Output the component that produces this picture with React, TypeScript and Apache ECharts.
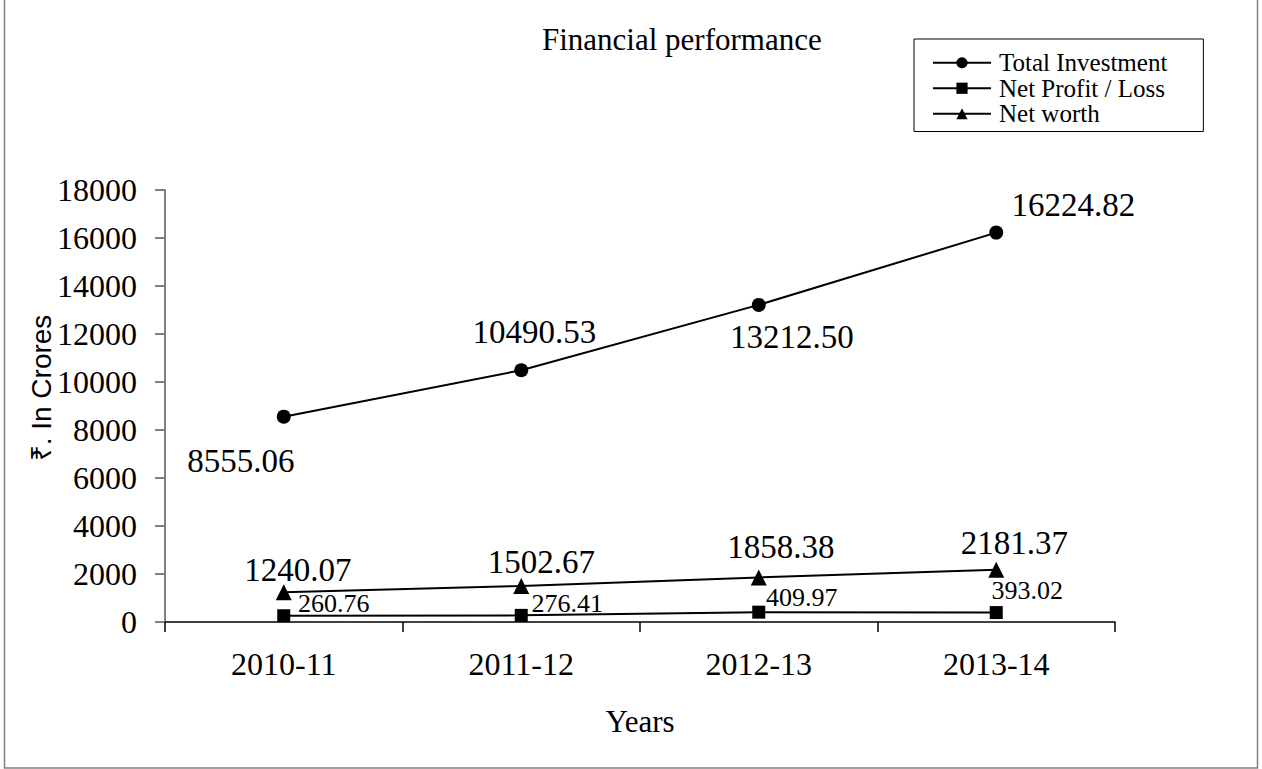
import React, { useEffect, useRef } from "react";
import * as echarts from "echarts";

const categories = ["2010-11", "2011-12", "2012-13", "2013-14"];
const totalInvestment = [8555.06, 10490.53, 13212.5, 16224.82];
const netProfit = [260.76, 276.41, 409.97, 393.02];
const netWorth = [1240.07, 1502.67, 1858.38, 2181.37];
const yTicks = [0, 18000, 2000]; // min, max, interval

// label offsets (layout only)
const tiOffsets = [[-43, 44], [13, -38], [33, 32], [77, -28]];
const npOffsets = [[50, -12], [46, -12], [43, -15], [31, -22]];
const nwOffsets = [[14, -22], [20, -24], [22, -30], [18, -27]];

const SERIF = "'Liberation Serif', 'Times New Roman', serif";

function build(values: number[], offsets: number[][], decimals: number) {
  return values.map((v, i) => ({
    value: v,
    label: { offset: offsets[i], formatter: () => v.toFixed(decimals) },
  }));
}

export default function App() {
  const ref = useRef<HTMLDivElement>(null);
  useEffect(() => {
    document.body.style.margin = "0";
    const chart = echarts.init(ref.current!, undefined, { renderer: "svg" });
    const lineStyle = { color: "#000", width: 2 };
    const mkLabel = (size: number) => ({
      show: true,
      position: "inside",
      color: "#000",
      fontFamily: SERIF,
      fontSize: size,
    });
    chart.setOption({
      animation: false,
      backgroundColor: "#fff",
      title: {
        text: "Financial performance",
        left: 537,
        top: 19,
        textStyle: { fontFamily: SERIF, fontSize: 31, fontWeight: "normal", color: "#000" },
      },
      legend: {
        orient: "vertical",
        left: 914,
        top: 39,
        padding: [11, 36, 5, 18],
        borderColor: "#000",
        borderWidth: 1,
        itemWidth: 58,
        itemHeight: 14,
        itemGap: 0,
        textStyle: { fontFamily: SERIF, fontSize: 25, color: "#000", lineHeight: 25.5, padding: [0, 0, 0, 3] },
        data: ["Total Investment", "Net Profit / Loss", "Net worth"],
      },
      grid: { left: 165, right: 147, top: 190, bottom: 147 },
      xAxis: {
        type: "category",
        data: categories,
        boundaryGap: true,
        axisLine: { lineStyle: { color: "#000", width: 1.5 } },
        axisTick: { show: true, length: 10, lineStyle: { color: "#000", width: 1.5 } },
        axisLabel: { color: "#000", fontFamily: SERIF, fontSize: 32, margin: 26 },
        name: "Years",
        nameLocation: "middle",
        nameGap: 84,
        nameTextStyle: { color: "#000", fontFamily: SERIF, fontSize: 31 },
      },
      yAxis: {
        type: "value",
        min: yTicks[0],
        max: yTicks[1],
        interval: yTicks[2],
        splitLine: { show: false },
        axisLine: { show: true, lineStyle: { color: "#808080", width: 2 } },
        axisTick: { show: true, length: 10, lineStyle: { color: "#808080", width: 2 } },
        axisLabel: {
          color: "#000",
          fontFamily: SERIF,
          fontSize: 32,
          margin: 28,
          formatter: (v: number) => String(v),
        },
      },
      graphic: [
        {
          type: "rect",
          shape: { x: 4.5, y: -10, width: 1253, height: 778 },
          style: { fill: "none", stroke: "#808080", lineWidth: 1.5 },
          silent: true,
        },
        {
          type: "text",
          x: 41,
          y: 388,
          rotation: Math.PI / 2,
          style: {
            text: "₹. In Crores",
            fontFamily: "'Liberation Sans', Arial, sans-serif",
            fontSize: 28,
            fill: "#000",
            align: "center",
            verticalAlign: "middle",
          },
        },
      ],
      series: [
        {
          name: "Total Investment",
          type: "line",
          data: build(totalInvestment, tiOffsets, 2),
          symbol: "circle",
          symbolSize: 14,
          itemStyle: { color: "#000" },
          lineStyle,
          label: mkLabel(33),
        },
        {
          name: "Net Profit / Loss",
          type: "line",
          data: build(netProfit, npOffsets, 2),
          symbol: "rect",
          symbolSize: 13,
          itemStyle: { color: "#000" },
          lineStyle,
          label: mkLabel(26),
        },
        {
          name: "Net worth",
          type: "line",
          data: build(netWorth, nwOffsets, 2),
          symbol: "triangle",
          symbolSize: 16,
          itemStyle: { color: "#000" },
          lineStyle,
          label: mkLabel(33),
        },
      ],
    });
    return () => chart.dispose();
  }, []);
  return <div ref={ref} style={{ width: 1262, height: 769, position: "absolute", left: 0, top: 0 }} />;
}
